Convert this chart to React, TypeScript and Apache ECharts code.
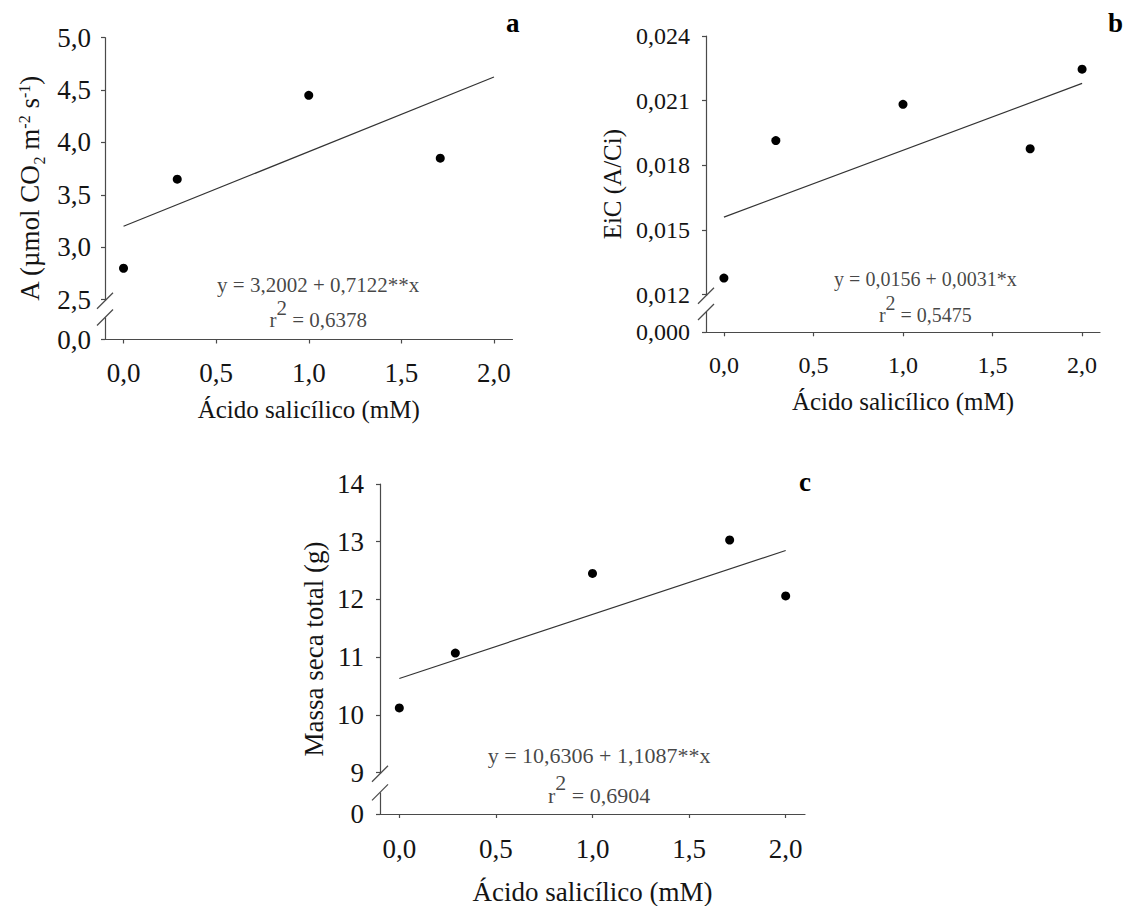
import React, { useEffect, useRef } from "react";
import * as echarts from "echarts";

// ---------- data ----------
const xTicks = [0, 0.5, 1, 1.5, 2];
const xName = "Ácido salicílico (mM)";

// panel a
const aX = [0, 0.29, 1, 1.71];
const aY = [2.8, 3.65, 4.45, 3.85];
const aCoef = [3.2002, 0.7122];
const aYTicks = [2.5, 3, 3.5, 4, 4.5, 5];
const aZeroLabel = "0,0";
const aEq = "y = 3,2002 + 0,7122**x";
const aR2 = "0,6378";

// panel b
const bX = [0, 0.29, 1, 1.71, 2];
const bY = [0.01277, 0.01915, 0.02083, 0.01877, 0.02246];
const bCoef = [0.0156, 0.0031];
const bYTicks = [0.012, 0.015, 0.018, 0.021, 0.024];
const bZeroLabel = "0,000";
const bEq = "y = 0,0156 + 0,0031*x";
const bR2 = "0,5475";

// panel c
const cX = [0, 0.29, 1, 1.71, 2];
const cY = [10.12, 11.07, 12.45, 13.03, 12.06];
const cCoef = [10.6306, 1.1087];
const cYTicks = [9, 10, 11, 12, 13, 14];
const cZeroLabel = "0";
const cEq = "y = 10,6306 + 1,1087**x";
const cR2 = "0,6904";

const panelLetters = ["a", "b", "c"];

// ---------- styling / layout ----------
const FONT = '"Liberation Serif", "Times New Roman", serif';
const AXIS = "#4a4a4a";
const TEXT = "#141414";

const fmt = (v: number, d: number) => v.toFixed(d).replace(".", ",");

type Panel = {
  grid: any;
  xs: number[];
  ys: number[];
  coef: number[];
  yTicks: number[];
  yMin: number;
  zeroLabel: string;
  dec: number;
  breaks: number[];
  eq: string;
  r2: string;
  eqPos: number[];
  eqFont: number;
  eqLH: number;
  supPad: number;
  tickFont: number;
  xMargin: number;
  yMargin: number;
  nameFont: number;
  yNameFont: number;
  xNameGap: number;
  yNameGap: number;
  yName: string;
  letterPos: number[];
};

const panels: Panel[] = [
  {
    grid: { left: 105, top: 37.7, width: 407.5, height: 301.8 },
    xs: aX, ys: aY, coef: aCoef, yTicks: aYTicks, yMin: 2.12, zeroLabel: aZeroLabel, dec: 1,
    breaks: [2.49, 2.33],
    eq: aEq, r2: aR2, eqPos: [1.051, 2.544], eqFont: 21, eqLH: 35, supPad: 12,
    tickFont: 27, xMargin: 20, yMargin: 14, nameFont: 25, yNameFont: 27, xNameGap: 57, yNameGap: 58,
    yName: "{n|A (µmol CO}{sub|2}{n| m}{sup|-2}{n| s}{sup|-1}{n|)}",
    letterPos: [506, 23],
  },
  {
    grid: { left: 706, top: 36, width: 394, height: 296.3 },
    xs: bX, ys: bY, coef: bCoef, yTicks: bYTicks, yMin: 0.010257, zeroLabel: bZeroLabel, dec: 3,
    breaks: [0.01195, 0.0112],
    eq: bEq, r2: bR2, eqPos: [1.125, 0.012258], eqFont: 20, eqLH: 36, supPad: 12,
    tickFont: 24, xMargin: 21, yMargin: 16, nameFont: 25, yNameFont: 25, xNameGap: 57, yNameGap: 77,
    yName: "{n|EiC (A/Ci)}",
    letterPos: [1108, 23],
  },
  {
    grid: { left: 380, top: 484, width: 425, height: 330 },
    xs: cX, ys: cY, coef: cCoef, yTicks: cYTicks, yMin: 8.282, zeroLabel: cZeroLabel, dec: 0,
    breaks: [8.98, 8.656],
    eq: cEq, r2: cR2, eqPos: [1.034, 9.11], eqFont: 22, eqLH: 40, supPad: 13,
    tickFont: 27, xMargin: 21, yMargin: 16, nameFont: 27, yNameFont: 27, xNameGap: 64, yNameGap: 49,
    yName: "{n|Massa seca total (g)}",
    letterPos: [799, 482.6],
  },
];

function buildOption() {
  const grid: any[] = [];
  const xAxis: any[] = [];
  const yAxis: any[] = [];
  const series: any[] = [];
  const graphic: any[] = [];

  panels.forEach((p, i) => {
    grid.push(p.grid);
    xAxis.push({
      type: "value",
      gridIndex: i,
      min: -0.1,
      max: 2.1,
      axisLine: { show: true, onZero: false, lineStyle: { color: AXIS, width: 1.2 } },
      axisTick: { show: true, length: 4, customValues: xTicks, lineStyle: { color: AXIS, width: 1.2 } },
      axisLabel: {
        customValues: xTicks,
        formatter: (v: number) => fmt(v, 1),
        fontFamily: FONT,
        fontSize: p.tickFont,
        color: TEXT,
        margin: p.xMargin,
      },
      splitLine: { show: false },
      name: xName,
      nameLocation: "middle",
      nameGap: p.xNameGap,
      nameTextStyle: { fontFamily: FONT, fontSize: p.nameFont, color: TEXT },
    });
    const yVals = [p.yMin, ...p.yTicks];
    const nf = p.yNameFont;
    yAxis.push({
      type: "value",
      gridIndex: i,
      min: p.yMin,
      max: p.yTicks[p.yTicks.length - 1],
      axisLine: { show: true, onZero: false, lineStyle: { color: AXIS, width: 1.2 } },
      axisTick: { show: true, length: 4, customValues: yVals, lineStyle: { color: AXIS, width: 1.2 } },
      axisLabel: {
        customValues: yVals,
        formatter: (v: number) => (v < p.yTicks[0] * 0.995 ? p.zeroLabel : fmt(v, p.dec)),
        fontFamily: FONT,
        fontSize: p.tickFont,
        color: TEXT,
        margin: p.yMargin,
      },
      splitLine: { show: false },
      name: p.yName,
      nameLocation: "middle",
      nameGap: p.yNameGap,
      nameTextStyle: {
        fontFamily: FONT,
        fontSize: nf,
        color: TEXT,
        rich: {
          n: { fontFamily: FONT, fontSize: nf, color: TEXT, verticalAlign: "bottom", padding: [0, 0, 4, 0] },
          sup: { fontFamily: FONT, fontSize: 16, color: TEXT, verticalAlign: "bottom", padding: [0, 0, 15, 0] },
          sub: { fontFamily: FONT, fontSize: 16, color: TEXT, verticalAlign: "bottom" },
        },
      },
    });

    // regression line
    const x0 = xTicks[0];
    const x1 = xTicks[xTicks.length - 1];
    series.push({
      type: "line",
      xAxisIndex: i,
      yAxisIndex: i,
      data: [
        [x0, p.coef[0] + p.coef[1] * x0],
        [x1, p.coef[0] + p.coef[1] * x1],
      ],
      symbol: "none",
      silent: true,
      lineStyle: { color: "#333", width: 1.2 },
      z: 2,
    });
    // points
    series.push({
      type: "scatter",
      xAxisIndex: i,
      yAxisIndex: i,
      data: p.xs.map((x, k) => [x, p.ys[k]]),
      symbol: "circle",
      symbolSize: 9,
      itemStyle: { color: "#000", opacity: 1 },
      silent: true,
      z: 3,
    });
    // equation annotation
    const ef = p.eqFont;
    series.push({
      type: "scatter",
      xAxisIndex: i,
      yAxisIndex: i,
      data: [p.eqPos],
      symbolSize: 1,
      itemStyle: { color: "rgba(0,0,0,0)" },
      silent: true,
      label: {
        show: true,
        position: "inside",
        align: "center",
        verticalAlign: "middle",
        formatter: `{e|${p.eq}}\n{e|r}{s|2}{e| = ${p.r2}}`,
        rich: {
          e: { fontFamily: FONT, fontSize: ef, color: TEXT, lineHeight: p.eqLH, verticalAlign: "bottom" },
          s: {
            fontFamily: FONT,
            fontSize: ef,
            color: TEXT,
            lineHeight: p.eqLH,
            verticalAlign: "bottom",
            padding: [0, 0, p.supPad, 0],
          },
        },
      },
      z: 4,
    });
    // axis break marks
    series.push({
      type: "custom",
      xAxisIndex: i,
      yAxisIndex: i,
      silent: true,
      clip: false,
      z: 5,
      data: [[-0.1, p.breaks[0], p.breaks[1]]],
      encode: { x: 0, y: [1, 2] },
      renderItem: (params: any, api: any) => {
        const pa = api.coord([api.value(0), api.value(1)]);
        const pb = api.coord([api.value(0), api.value(2)]);
        const s = 8;
        return {
          type: "group",
          children: [
            {
              type: "rect",
              shape: { x: pa[0] - 3, y: pa[1], width: 6, height: pb[1] - pa[1] },
              style: { fill: "#fff" },
            },
            {
              type: "line",
              shape: { x1: pa[0] - s, y1: pa[1] + s, x2: pa[0] + s, y2: pa[1] - s },
              style: { stroke: AXIS, lineWidth: 1.2 },
            },
            {
              type: "line",
              shape: { x1: pb[0] - s, y1: pb[1] + s, x2: pb[0] + s, y2: pb[1] - s },
              style: { stroke: AXIS, lineWidth: 1.2 },
            },
          ],
        };
      },
    });

    graphic.push({
      type: "text",
      left: p.letterPos[0],
      top: p.letterPos[1] - 14,
      style: {
        text: panelLetters[i],
        font: `bold 27px ${FONT}`,
        fill: "#000",
      },
    });
  });

  return {
    animation: false,
    backgroundColor: "#fff",
    grid,
    xAxis,
    yAxis,
    series,
    graphic,
  };
}

export default function App() {
  const ref = useRef<HTMLDivElement | null>(null);
  useEffect(() => {
    if (!ref.current) return;
    const chart = echarts.init(ref.current, undefined, { renderer: "svg" });
    chart.setOption(buildOption() as any);
    return () => chart.dispose();
  }, []);
  return (
    <div
      ref={ref}
      style={{ position: "absolute", left: 0, top: 0, width: 1125, height: 906, background: "#fff" }}
    />
  );
}
